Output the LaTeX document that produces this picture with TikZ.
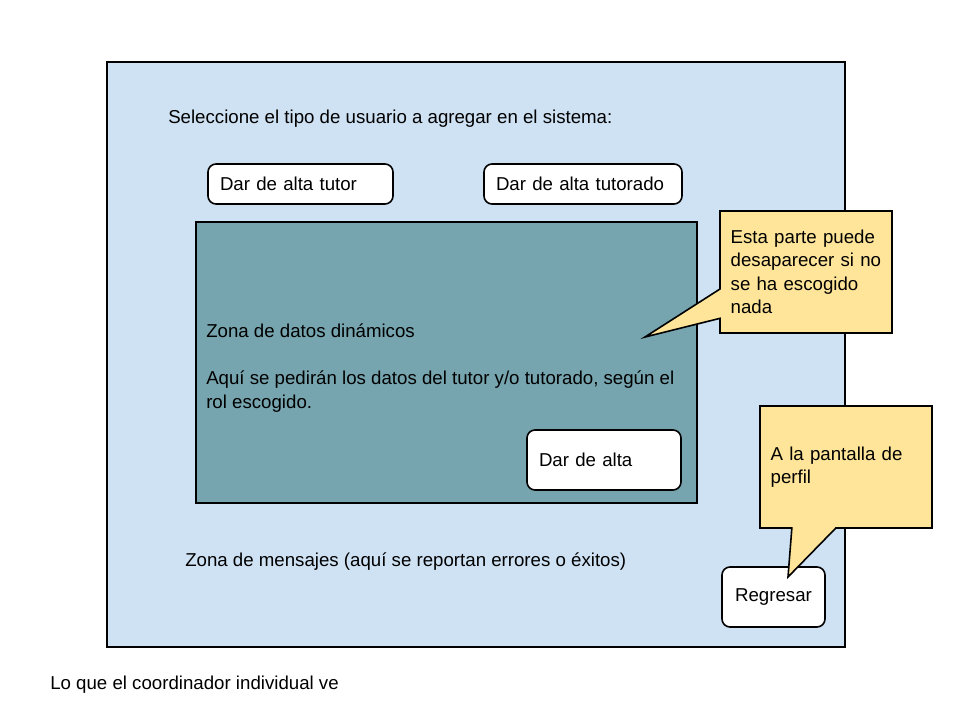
\documentclass[tikz,border=0pt]{standalone}
\usepackage{fontspec}
\setmainfont{Liberation Sans}
\usetikzlibrary{shapes.callouts}
\definecolor{screenblue}{HTML}{CFE2F3}
\definecolor{zoneteal}{HTML}{76A5AF}
\definecolor{noteyellow}{HTML}{FFE599}
\tikzstyle{box}=[draw, line width=1.2pt, inner sep=0pt, outer sep=0pt]
\tikzstyle{screen}=[box, fill=screenblue, minimum width=553.5pt, minimum height=438.75pt]
\tikzstyle{zone}=[box, fill=zoneteal, minimum width=375.75pt, minimum height=210.75pt]
\tikzstyle{button}=[box, fill=white, rounded corners=6pt, minimum height=30pt, inner sep=9pt, align=left]
\tikzstyle{note}=[box, fill=noteyellow, rectangle callout, minimum width=129pt, minimum height=91.5pt, inner sep=8pt, align=left, text width=113pt]
\tikzstyle{label}=[inner sep=0pt, align=left]

\begin{document}
\begin{tikzpicture}[x=0.75pt, y=-0.75pt, font=\fontsize{14}{17.6}\selectfont]
        \useasboundingbox (0,0) rectangle (960,720);
        \node[screen]                                  (S) at (476, 354.5) {};
        \node[label, anchor=west]                      (title) at (168, 119) {Seleccione el tipo de usuario a agregar en el sistema:};
        \node[button, minimum width=138.75pt, text width=120.75pt] (tutor) at (300.5, 184) {Dar de alta tutor};
        \node[button, minimum width=148.5pt, text width=130.5pt]   (tutorado) at (583, 184) {Dar de alta tutorado};
        \node[zone]                                    (Z) at (446.5, 362.5) {};
        \node[label, anchor=west]                      (ztext) at (206, 368) {Zona de datos dinámicos\\[17.6pt]Aquí se pedirán los datos del tutor y/o tutorado, según el\\rol escogido.};
        \node[button, minimum width=115.5pt, minimum height=45pt, text width=97.5pt] (alta) at (604, 460) {Dar de alta};
        \node[label, anchor=west]                      (msg) at (185, 562) {Zona de mensajes (aquí se reportan errores o éxitos)};
        \node[button, minimum width=77.25pt, minimum height=45pt, align=center] (back) at (773.5, 597) {Regresar};
        \coordinate (tip1) at (645, 337);
        \coordinate (tip2) at (788, 577);
        \node[note, callout absolute pointer=(tip1), callout pointer width=22pt] (N1) at (806, 272) {Esta parte puede\\desaparecer si no\\se ha escogido\\nada};
        \node[note, callout absolute pointer=(tip2), callout pointer width=33pt] (N2) at (846, 467) {A la pantalla de\\perfil};
        \node[label, anchor=west]                      (caption) at (50, 685) {Lo que el coordinador individual ve};
    \end{tikzpicture}
\end{document}
